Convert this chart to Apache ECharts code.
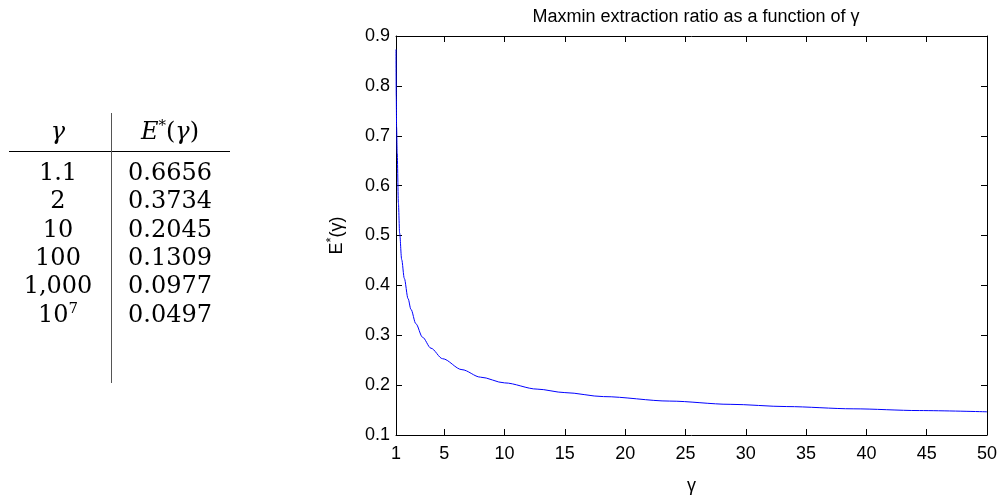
<!DOCTYPE html>
<html>
<head>
<meta charset="utf-8">
<script src="https://cdn.jsdelivr.net/npm/echarts@6/dist/echarts.min.js"></script>
<style>
  html, body { margin: 0; padding: 0; background: #fff; }
  #wrap { position: relative; width: 1001px; height: 500px; }
  #curve { position: absolute; left: 0; top: 0; width: 1001px; height: 500px; }
  .cell { position: absolute; font-family: "DejaVu Serif", "Liberation Serif", serif; font-size: 24px; color: #000;
          transform: translate(-50%, -50%); white-space: nowrap; line-height: 1; }
  .cell sup { font-size: 15px; vertical-align: 9px; line-height: 0; }
  .hline { position: absolute; background: #000; height: 1px; }
  .vline { position: absolute; background: #555; width: 1px; }
</style>
</head>
<body>
<div id="wrap">
  <div id="curve"></div>
  <div id="tbl"></div>
</div>
<script>
// 表格数据
var tblGamma = ['1.1', '2', '10', '100', '1,000', '10<sup>7</sup>'];
var tblValue = ['0.6656', '0.3734', '0.2045', '0.1309', '0.0977', '0.0497'];

// 曲线数据
var gammaVals = [1, 1.02, 1.05, 1.1, 1.2, 1.3, 1.47, 1.69, 2, 2.24, 2.65, 3.2, 3.9, 4.86, 6.47, 8, 10, 12.7, 15, 18.2, 23.7, 28.7, 33.4, 38.9, 44.4, 50];
var eVals = [0.873, 0.78, 0.717, 0.6656, 0.565, 0.505, 0.452, 0.414, 0.3734, 0.352, 0.323, 0.296, 0.274, 0.253, 0.231, 0.216, 0.2045, 0.192, 0.185, 0.177, 0.168, 0.1615, 0.157, 0.1525, 0.149, 0.1465];

// 坐标刻度
var xTicks = [1, 5, 10, 15, 20, 25, 30, 35, 40, 45, 50];

var fontSans = '"Liberation Sans", Arial, sans-serif';

//生成表格
function createTable() {
    var html = '';
    var colX = [58, 170];
    var headY = 131, rowY0 = 172, rowH = 28.3;
    html += '<div class="cell" style="left:' + colX[0] + 'px;top:' + headY + 'px"><i>γ</i></div>';
    html += '<div class="cell" style="left:' + colX[1] + 'px;top:' + headY + 'px"><i>E</i><sup>*</sup>(<i>γ</i>)</div>';
    for (var i = 0; i < tblGamma.length; i++) {
        var y = rowY0 + i * rowH;
        html += '<div class="cell" style="left:' + colX[0] + 'px;top:' + y + 'px">' + tblGamma[i] + '</div>';
        html += '<div class="cell" style="left:' + colX[1] + 'px;top:' + y + 'px">' + tblValue[i] + '</div>';
    }
    html += '<div class="hline" style="left:9px;top:151px;width:221px"></div>';
    html += '<div class="vline" style="left:111px;top:113px;height:270px"></div>';
    document.getElementById('tbl').innerHTML = html;
}

// 初始化echarts实例
var myChart = echarts.init(document.getElementById('curve'));

function createEcharts() {
    var pts = [];
    for (var i = 0; i < gammaVals.length; i++) {
        pts.push([gammaVals[i], eVals[i]]);
    }
    var tickCommon = { show: true, inside: true, length: 6, lineStyle: { color: '#000', width: 1 } };
    var lineCommon = { show: true, onZero: false, lineStyle: { color: '#000', width: 1 } };
    var option = {
        animation: false,
        title: {
            text: 'Maxmin extraction ratio as a function of γ',
            left: 691,
            top: 3,
            textAlign: 'center',
            textStyle: { fontFamily: fontSans, fontSize: 18, fontWeight: 'normal', color: '#000' }
        },
        grid: {
            left: 396,
            right: 14,
            top: 36,
            bottom: 53
        },
        xAxis: [{
            type: 'value',
            min: 1,
            max: 50,
            name: 'γ',
            nameLocation: 'middle',
            nameGap: 42,
            nameTextStyle: { fontFamily: fontSans, fontSize: 18, color: '#000' },
            axisLine: lineCommon,
            axisTick: Object.assign({ customValues: xTicks }, tickCommon),
            axisLabel: {
                customValues: xTicks,
                margin: 10,
                fontFamily: fontSans,
                fontSize: 18,
                color: '#000'
            },
            splitLine: { show: false }
        }, {
            type: 'value',
            position: 'top',
            min: 1,
            max: 50,
            axisLine: lineCommon,
            axisTick: Object.assign({ customValues: xTicks }, tickCommon),
            axisLabel: { show: false },
            splitLine: { show: false }
        }],
        yAxis: [{
            type: 'value',
            min: 0.1,
            max: 0.9,
            interval: 0.1,
            name: '{a|E}{s|*}{a|(γ)}',
            nameLocation: 'middle',
            nameGap: 46,
            nameRotate: 90,
            nameTextStyle: {
                fontFamily: fontSans,
                color: '#000',
                rich: {
                    a: { fontFamily: fontSans, fontSize: 18, color: '#000' },
                    s: { fontFamily: fontSans, fontSize: 13, color: '#000', padding: [0, 0, 12, 0] }
                }
            },
            axisLine: lineCommon,
            axisTick: tickCommon,
            axisLabel: {
                margin: 6,
                fontFamily: fontSans,
                fontSize: 18,
                color: '#000',
                formatter: function (v) { return v.toFixed(1); }
            },
            splitLine: { show: false }
        }, {
            type: 'value',
            position: 'right',
            min: 0.1,
            max: 0.9,
            interval: 0.1,
            axisLine: lineCommon,
            axisTick: tickCommon,
            axisLabel: { show: false },
            splitLine: { show: false }
        }],
        series: [{
            name: 'E*',
            type: 'line',
            data: pts,
            smooth: 0.3,
            smoothMonotone: 'x',
            showSymbol: false,
            lineStyle: { color: '#0000ff', width: 1 }
        }]
    };
    myChart.setOption(option);
}

createTable();
createEcharts();
</script>
</body>
</html>
